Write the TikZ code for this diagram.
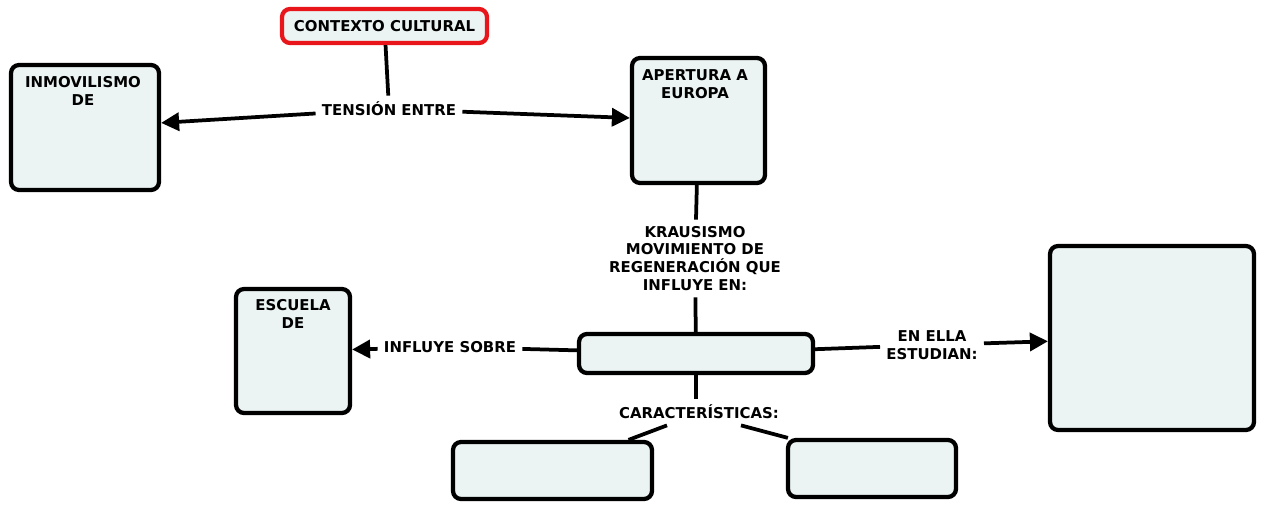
\documentclass[tikz,border=0pt]{standalone}
\usepackage{fontspec}
\setmainfont{DejaVu Sans}
\usetikzlibrary{arrows.meta,positioning}
\definecolor{boxfill}{HTML}{EBF3F3}
\definecolor{ctxred}{HTML}{E8161B}

\begin{document}
\begin{tikzpicture}[x=0.02cm,y=-0.02cm,
	font=\fontsize{8.5}{10.2}\selectfont\bfseries,
	>={Triangle[length=0.36cm,width=0.36cm]},
	every edge/.style={draw,line width=0.075cm},
	box/.style={draw,line width=0.085cm,rounded corners=0.16cm,fill=boxfill,inner sep=0pt},
	lbl/.style={align=center,inner sep=0.12cm}]
\useasboundingbox (0,0) rectangle (1264,510);

\node[box,draw=ctxred,minimum width=4.1cm,minimum height=0.68cm] (ctx) at (384.5,26) {CONTEXTO CULTURAL};
\node[box,minimum width=2.96cm,minimum height=2.5cm] (inm) at (85,127.5) {};
\node[lbl] (inmt) at (83,91) {INMOVILISMO\\DE};
\node[box,minimum width=2.66cm,minimum height=2.5cm] (apt) at (698.5,120.5) {};
\node[lbl] (aptt) at (695,84) {APERTURA A\\EUROPA};
\node[box,minimum width=4.68cm,minimum height=0.78cm] (cen) at (696,353.5) {};
\node[box,minimum width=2.28cm,minimum height=2.48cm] (esc) at (293,351) {};
\node[lbl] (esct) at (293,314) {ESCUELA\\DE};
\node[box,minimum width=4.08cm,minimum height=3.68cm] (rgt) at (1152,338) {};
\node[box,minimum width=3.98cm,minimum height=1.14cm] (bl) at (552.5,470.5) {};
\node[box,minimum width=3.36cm,minimum height=1.14cm] (br) at (872,468.5) {};

\node[lbl] (tens) at (389,109) {TENSIÓN ENTRE};
\node[lbl] (kra) at (695,258.5) {KRAUSISMO\\MOVIMIENTO DE\\REGENERACIÓN QUE\\INFLUYE EN:};
\node[lbl] (inf) at (450,347) {INFLUYE SOBRE};
\node[lbl] (est) at (932,345) {EN ELLA\\ESTUDIAN:};
\node[lbl] (car) at (699,412) {CARACTERÍSTICAS:};

\path	(ctx) edge (tens)
		(tens) edge[->] (inm)
		(tens) edge[->] (apt)
		(apt) edge (kra)
		(kra) edge (cen)
		(cen) edge (inf)
		(inf) edge[->] (esc)
		(cen) edge (est)
		(est) edge[->] (rgt)
		(cen.south) edge (car.north -| cen.south)
		([xshift=-0.64cm]car.south) edge ([xshift=1.52cm]bl.north)
		([xshift=0.84cm]car.south) edge ([xshift=0.04cm]br.north west)
;
\end{tikzpicture}
\end{document}
